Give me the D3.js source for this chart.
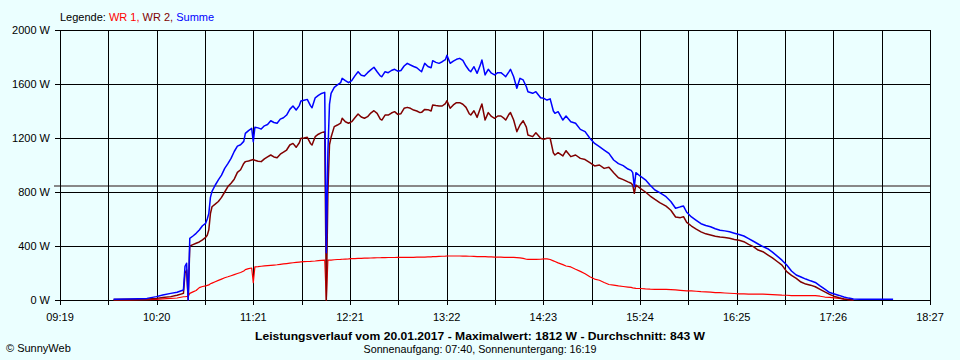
<!DOCTYPE html>
<html><head><meta charset="utf-8">
<script src="https://cdn.jsdelivr.net/npm/d3@7"></script>
<style>
html,body{margin:0;padding:0;background:#ebffff;}
svg{display:block;font-family:"Liberation Sans",Arial,sans-serif;}
</style></head><body>
<svg id="c" width="960" height="360"></svg>
<script>
// ---- data ----
const times = [
 "09:53","10:03","10:14","10:20","10:24","10:29","10:33","10:37","10:38","10:39",
 "10:40","10:41","10:43","10:45","10:47","10:49","10:51","10:52","10:53","10:54",
 "10:55","10:57","10:59","11:01","11:03","11:05","11:07","11:09","11:11","11:13",
 "11:15","11:16","11:18","11:20","11:21","11:22","11:24","11:26","11:28","11:30",
 "11:32","11:34","11:36","11:38","11:40","11:42","11:44","11:46","11:48","11:50",
 "11:51","11:53","11:55","11:57","11:58","12:00","12:02","12:04","12:06","12:07",
 "12:08","12:09","12:10","12:12","12:14","12:16","12:17","12:19","12:21","12:23",
 "12:25","12:27","12:29","12:31","12:33","12:35","12:37","12:39","12:41","12:42",
 "12:44","12:46","12:48","12:50","12:52","12:54","12:56","12:58","13:00","13:02",
 "13:04","13:06","13:07","13:09","13:11","13:13","13:14","13:16","13:18","13:20",
 "13:22","13:23","13:25","13:27","13:29","13:31","13:33","13:35","13:37","13:38",
 "13:40","13:42","13:44","13:45","13:47","13:49","13:51","13:53","13:55","13:57",
 "13:59","14:00","14:02","14:03","14:05","14:07","14:09","14:11","14:13","14:14",
 "14:17","14:19","14:22","14:24","14:26","14:28","14:30","14:31","14:33","14:36",
 "14:38","14:41","14:44","14:47","14:50","14:53","14:56","14:59","15:02","15:05",
 "15:08","15:11","15:14","15:17","15:19","15:20","15:21","15:22","15:25","15:28",
 "15:31","15:34","15:37","15:41","15:44","15:47","15:50","15:52","15:54","15:57",
 "16:00","16:03","16:06","16:09","16:12","16:15","16:18","16:21","16:24","16:27",
 "16:30","16:33","16:36","16:39","16:42","16:45","16:48","16:51","16:54","16:57",
 "17:00","17:03","17:06","17:09","17:12","17:15","17:18","17:21","17:24","17:27",
 "17:30","17:33","17:36","17:39","17:43","17:51","17:56","18:00","18:04"
];
const wr1 = [
 0,0,2,4,8,12,15,24,24,26,
 28,49,60,70,92,100,104,108,112,120,
 125,135,145,155,165,172,180,188,196,204,
 215,225,232,237,128,245,247,250,253,255,
 257,259,261,264,267,270,273,276,279,281,
 282,284,285,286,287,289,292,294,296,0,
 296,296,296,298,300,301,302,303,304,306,
 307,308,309,310,310,311,312,313,313,314,
 314,315,315,315,316,316,316,316,316,316,
 317,317,317,318,319,320,321,322,323,324,
 325,326,326,326,326,326,325,325,324,324,
 323,322,322,322,321,320,319,318,318,317,
 316,316,316,316,316,314,312,308,302,301,
 301,301,302,304,304,300,290,285,275,262,
 252,245,228,212,195,172,155,146,130,115,
 110,104,100,96,93,90,88,86,85,82,
 80,79,78,78,77,75,72,70,68,67,
 65,62,60,58,55,54,52,50,48,46,
 45,44,44,44,43,42,40,38,36,35,
 33,33,33,33,33,32,28,22,20,16,
 12,7,2,0,null,null,null,null,null
];
const wr2 = [
 3,5,8,12,18,25,35,49,200,222,
 0,400,410,420,430,445,464,480,520,640,
 691,710,730,760,800,840,865,895,945,965,
 1012,1025,1030,1037,1040,1035,1028,1025,1045,1060,
 1074,1060,1054,1080,1095,1111,1148,1160,1131,1165,
 1198,1200,1205,1160,1148,1210,1228,1240,1247,0,
 800,1150,1205,1284,1296,1310,1346,1320,1309,1321,
 1350,1378,1355,1346,1358,1385,1402,1383,1340,1333,
 1370,1370,1385,1395,1375,1380,1420,1427,1420,1407,
 1400,1388,1390,1412,1410,1400,1444,1440,1437,1437,
 1455,1476,1420,1445,1462,1462,1450,1427,1380,1370,
 1402,1353,1420,1452,1333,1388,1360,1346,1363,1363,
 1345,1333,1375,1388,1333,1247,1296,1328,1280,1222,
 1210,1239,1198,1190,1198,1198,1090,1074,1091,1067,
 1106,1062,1074,1049,1040,1017,993,1000,975,983,
 943,905,892,875,865,852,790,852,825,800,
 770,745,722,695,665,615,610,617,575,548,
 525,505,490,481,472,466,463,457,448,442,
 432,412,395,370,358,335,312,285,258,210,
 182,160,133,118,110,98,79,60,42,27,
 16,8,4,0,null,null,null,null,null
];
const summe = [
 5,7,12,25,37,49,57,74,250,272,
 0,457,474,494,519,550,568,600,642,760,
 805,850,890,925,975,1010,1049,1100,1140,1150,
 1175,1234,1255,1271,1173,1279,1275,1266,1290,1300,
 1328,1315,1309,1340,1350,1370,1412,1437,1407,1440,
 1474,1480,1486,1440,1424,1498,1515,1530,1538,350,
 1100,1450,1531,1575,1593,1610,1642,1625,1610,1625,
 1660,1691,1665,1659,1684,1705,1724,1691,1660,1654,
 1691,1684,1700,1709,1695,1700,1733,1753,1741,1730,
 1720,1700,1691,1753,1730,1720,1773,1760,1753,1765,
 1780,1812,1753,1770,1783,1790,1775,1733,1700,1691,
 1728,1679,1740,1778,1667,1709,1680,1667,1684,1684,
 1665,1654,1690,1709,1654,1568,1642,1630,1580,1543,
 1531,1543,1498,1494,1481,1490,1400,1383,1395,1333,
 1363,1321,1309,1264,1247,1198,1160,1136,1111,1086,
 1037,1010,995,970,960,943,839,943,915,890,
 850,815,795,765,730,680,690,696,650,615,
 590,565,552,543,528,517,512,505,495,485,
 474,455,435,415,396,380,355,325,295,259,
 215,185,170,155,142,130,104,80,55,45,
 34,22,14,7,5,5,5,5,5
];
const yTicks = [0, 400, 800, 1200, 1600, 2000];
const xTickLabels = ["09:19","10:20","11:21","12:21","13:22","14:23","15:24","16:25","17:26","18:27"];
const timeStart = "09:19:15", timeEnd = "18:27:15";
const average = 843;
const titleText = "Leistungsverlauf vom 20.01.2017 - Maximalwert: 1812 W - Durchschnitt: 843 W";
const subText = "Sonnenaufgang: 07:40, Sonnenuntergang: 16:19";

// ---- drawing ----
const toMin = s => { const p = s.split(":").map(Number); return p[0]*60 + p[1] + (p[2]||0)/60; };
const svg = d3.select("#c");
const L = 60, R = 930, T = 30, B = 300;
const x = d3.scaleLinear().domain([toMin(timeStart), toMin(timeEnd)]).range([L, R]);
const y = d3.scaleLinear().domain([0, 2000]).range([B, T]);
const px = v => Math.round(v) + 0.5;

svg.append("rect").attr("width",960).attr("height",360).attr("fill","#ebffff");

const d0 = toMin(timeStart), step = (toMin(timeEnd) - d0) / (xTickLabels.length - 1);
const gridX = d3.range(0, (xTickLabels.length - 1) * 2 + 1).map(i => d0 + i * step / 2);

// average line
svg.append("line").attr("x1",54).attr("x2",R).attr("y1",Math.round(y(average))).attr("y2",Math.round(y(average)))
  .attr("stroke","#888").attr("stroke-width",2);

const g = svg.append("g").attr("stroke","#000").attr("stroke-width",1).attr("shape-rendering","crispEdges");
gridX.forEach(t => {
  g.append("line").attr("x1",px(x(t))).attr("x2",px(x(t))).attr("y1",T).attr("y2",B+5);
});
yTicks.forEach(v => {
  g.append("line").attr("x1",L-5).attr("x2",R).attr("y1",px(y(v))).attr("y2",px(y(v)));
});

// y labels
svg.append("g").selectAll("text").data(yTicks).join("text")
  .attr("x",50).attr("y",d => y(d)+4).attr("text-anchor","end")
  .attr("font-size",11).attr("fill","#000").text(d => d + " W");
// x labels
svg.append("g").selectAll("text").data(xTickLabels).join("text")
  .attr("x",(d,i) => x(d0 + i*step)).attr("y",321).attr("text-anchor","middle")
  .attr("font-size",11).attr("fill","#000").text(d => d);

// series
const series = [
  {vals: wr1, color: "#ff0000", w: 1.2},
  {vals: wr2, color: "#800000", w: 1.5},
  {vals: summe, color: "#0000ff", w: 1.5}
];
const line = d3.line().defined(d => d.v != null).x(d => x(d.t)).y(d => y(d.v));
series.forEach(s => {
  const pts = times.map((t,i) => ({t: toMin(t), v: s.vals[i]}));
  svg.append("path").attr("d", line(pts)).attr("fill","none")
    .attr("stroke", s.color).attr("stroke-width", s.w).attr("stroke-linejoin","round");
});

// legend
const lg = svg.append("text").attr("x",60).attr("y",21).attr("font-size",11);
lg.append("tspan").attr("fill","#000").text("Legende: ");
lg.append("tspan").attr("fill","#ff0000").text("WR 1, ");
lg.append("tspan").attr("fill","#800000").text("WR 2, ");
lg.append("tspan").attr("fill","#0000ff").text("Summe");

// titles
svg.append("text").attr("x",480).attr("y",340).attr("text-anchor","middle")
  .attr("font-size",11.5).attr("font-weight","bold").attr("textLength",450).attr("lengthAdjust","spacingAndGlyphs")
  .text(titleText);
svg.append("text").attr("x",480).attr("y",353).attr("text-anchor","middle")
  .attr("font-size",11).attr("textLength",233).attr("lengthAdjust","spacingAndGlyphs")
  .text(subText);
svg.append("text").attr("x",6).attr("y",352).attr("font-size",11).text("© SunnyWeb");
</script>
</body></html>
